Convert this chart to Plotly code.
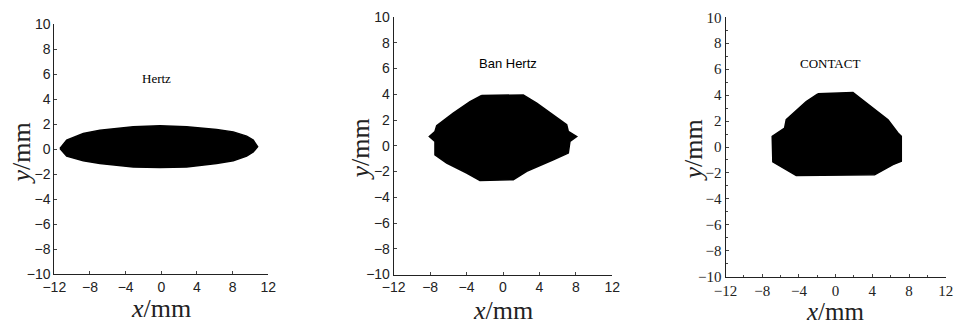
import plotly.graph_objects as go

# ---- data (outlines, mm) ----
hertz_x = [-11.36, -10.61, -8.75, -6.88, -3.14, -0.15, 2.84, 6.2, 8.07, 9.57, 10.31, 10.8,
           10.31, 9.57, 8.07, 6.2, 2.84, -0.15, -3.14, -6.88, -8.75, -10.61]
hertz_y = [0.05, 0.72, 1.25, 1.52, 1.79, 1.86, 1.79, 1.57, 1.38, 1.04, 0.72, 0.2,
           -0.22, -0.56, -0.93, -1.15, -1.42, -1.47, -1.42, -1.15, -0.93, -0.56]

ban_x = [-2.34, 2.23, 3.70, 5.52, 6.99, 7.17, 8.09, 7.35, 7.17, 5.52, 2.60, 1.13,
         -2.53, -3.99, -6.18, -7.47, -7.47, -8.09, -7.47, -7.28, -5.46, -3.62]
ban_y = [3.90, 3.95, 3.31, 2.40, 1.63, 1.11, 0.72, 0.33, -0.57, -1.09, -1.99, -2.64,
         -2.69, -2.12, -1.34, -0.70, 0.33, 0.72, 1.11, 1.55, 2.53, 3.43]

contact_x = [-1.93, 1.89, 4.07, 5.71, 6.8, 7.16, 7.16, 6.25, 4.25, -4.29, -6.84, -6.91,
             -5.56, -5.38, -3.2]
contact_y = [4.10, 4.21, 3.0, 2.1, 1.08, 0.82, -1.10, -1.36, -2.13, -2.2, -1.15, 0.82,
             1.46, 2.1, 3.51]

panel_titles = ["Hertz", "Ban Hertz", "CONTACT"]
title_pos = [(-0.5, 5.65), (0.5, 6.4), (-0.6, 6.4)]
x_ticks = [-12, -8, -4, 0, 4, 8, 12]
y_ticks = [-10, -8, -6, -4, -2, 0, 2, 4, 6, 8, 10]

# ---- layout (pixel boxes in the window -> paper; page body margin removed below) ----
W, H = 957, 326
boxes = [(54.3, 268.3, 24, 274.3), (393.7, 612.3, 17, 274.5), (725.5, 945.7, 17.3, 276.7)]
xtitle_gap = [34, 36, 35]
tick_fonts = ["Liberation Sans", "Liberation Sans", "Liberation Serif"]
title_fonts = ["Liberation Serif", "Liberation Sans", "Liberation Serif"]


def px(x):
    return x / W


def py(y):
    return 1 - y / H


fig = go.Figure()
shapes_xy = [(hertz_x, hertz_y), (ban_x, ban_y), (contact_x, contact_y)]
for i, (sx, sy) in enumerate(shapes_xy):
    xa = "x" if i == 0 else f"x{i+1}"
    ya = "y" if i == 0 else f"y{i+1}"
    fig.add_trace(go.Scatter(x=sx + [sx[0]], y=sy + [sy[0]], mode="lines", fill="toself",
                             fillcolor="black", line=dict(color="black", width=1.5),
                             xaxis=xa, yaxis=ya, hoverinfo="skip", showlegend=False))

layout = dict(width=W, height=H, autosize=False, margin=dict(l=0, r=0, t=0, b=0, pad=0),
              paper_bgcolor="white", plot_bgcolor="white", showlegend=False)
annotations = []
for i, (x0, x1, y0, y1) in enumerate(boxes):
    sfx = "" if i == 0 else str(i + 1)
    tf = dict(family=tick_fonts[i], size=15 if i == 2 else 14, color="#222")
    common = dict(ticks="inside", ticklen=3, showline=True, linecolor="#222", linewidth=1,
                  showgrid=False, zeroline=False, tickfont=tf, automargin=False, fixedrange=True,
                  ticklabeloverflow="allow")
    xa = dict(domain=[px(x0), px(x1)], range=[-12, 12], anchor="y" + sfx, tickvals=x_ticks, **common)
    ya = dict(domain=[py(y1), py(y0)], range=[-10, 10], anchor="x" + sfx, tickvals=y_ticks, **common)
    if i == 2:
        xa["minor"] = dict(dtick=2, ticks="inside", ticklen=2)
        ya["minor"] = dict(dtick=1, ticks="inside", ticklen=2)
    layout["xaxis" + sfx] = xa
    layout["yaxis" + sfx] = ya
    # panel labels
    annotations.append(dict(x=title_pos[i][0], y=title_pos[i][1], xref="x" + sfx, yref="y" + sfx,
                            text=panel_titles[i], showarrow=False, xanchor="center", yanchor="middle",
                            font=dict(family=title_fonts[i], size=13, color="black")))
    # axis titles
    annotations.append(dict(x=px((x0 + x1) / 2), y=py(y1 + xtitle_gap[i]), xref="paper", yref="paper",
                            text="<i>x</i>/mm", showarrow=False, xanchor="center", yanchor="middle",
                            font=dict(family="Liberation Serif", size=25 if i == 2 else 26, color="#222")))
    annotations.append(dict(x=px(x0 - 33), y=py((y0 + y1) / 2 + 4), xref="paper", yref="paper",
                            text="<i>y</i>/mm", showarrow=False, textangle=-90,
                            xanchor="center", yanchor="middle",
                            font=dict(family="Liberation Serif", size=26, color="#222")))
layout["annotations"] = annotations
fig.update_layout(**layout)
fig.write_html("out.html", config={"displayModeBar": False, "staticPlot": True},
               post_script="document.body.style.margin='0';document.body.style.overflow='hidden';")
